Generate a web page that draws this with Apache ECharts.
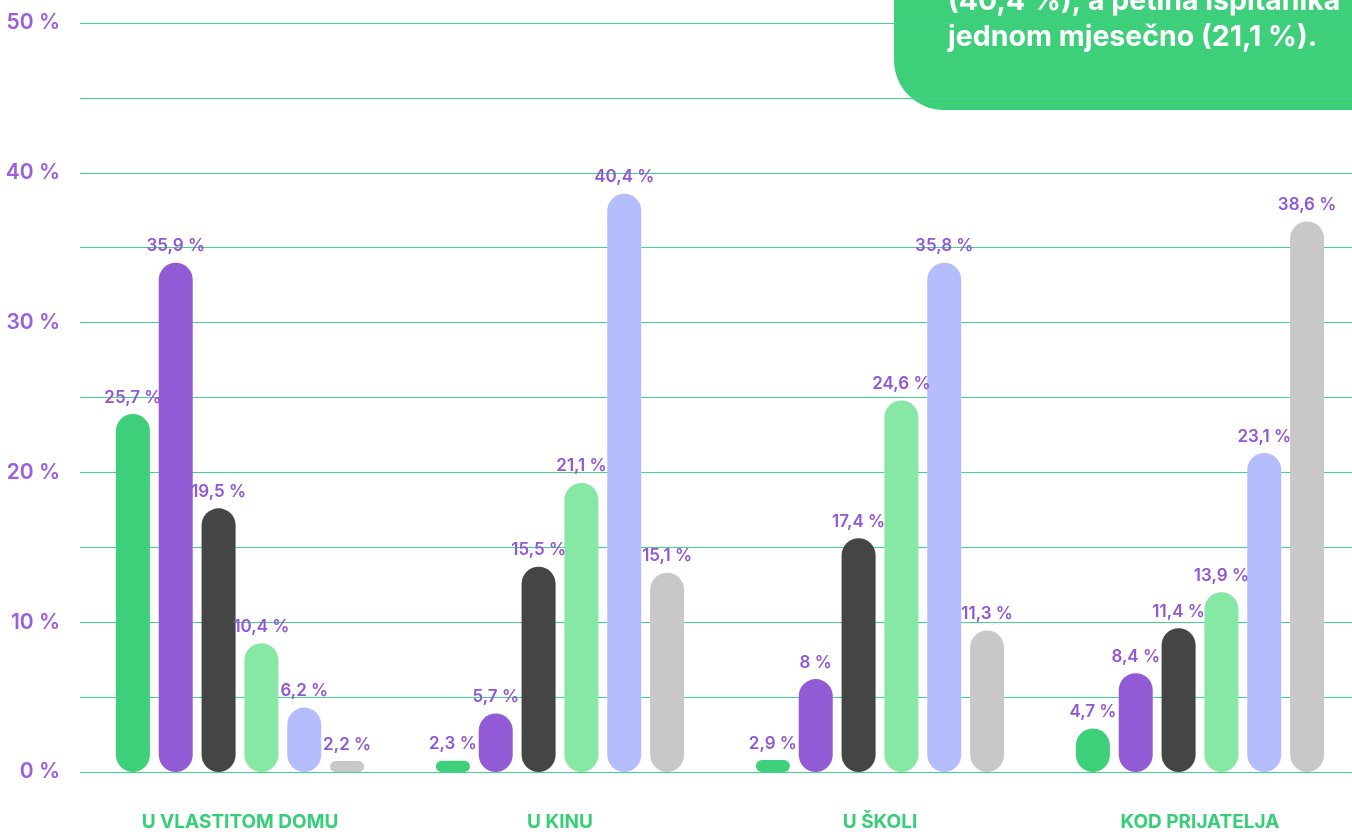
<!DOCTYPE html>
<html>
<head>
<meta charset="utf-8">
<script src="https://cdn.jsdelivr.net/npm/echarts@6/dist/echarts.min.js"></script>
<style>
html, body { margin: 0; padding: 0; background: #fff; overflow: hidden; }
#chart { width: 1360px; height: 832px; }
</style>
</head>
<body>
<div id="chart"></div>
<script>
const categories = ['U VLASTITOM DOMU', 'U KINU', 'U ŠKOLI', 'KOD PRIJATELJA']
const yTicks = [0, 10, 20, 30, 40, 50]

// printed percentages (labels)
const greenValues = [25.7, 2.3, 2.9, 4.7]
const purpleValues = [35.9, 5.7, 8, 8.4]
const darkValues = [19.5, 15.5, 17.4, 11.4]
const lightGreenValues = [10.4, 21.1, 24.6, 13.9]
const lavenderValues = [6.2, 40.4, 35.8, 23.1]
const grayValues = [2.2, 15.1, 11.3, 38.6]

// visible bar heights as drawn in the picture (in axis %)
const greenBars = [23.9, 0.75, 0.8, 2.9]
const purpleBars = [34.0, 3.9, 6.2, 6.6]
const darkBars = [17.6, 13.7, 15.6, 9.6]
const lightGreenBars = [8.6, 19.3, 24.8, 12.0]
const lavenderBars = [4.3, 38.6, 34.0, 21.3]
const grayBars = [0.73, 13.3, 9.45, 36.75]

const calloutLines = ['(40,4 %), a petina ispitanika', 'jednom mjesečno (21,1 %).']

const labelColor = '#9058d6'
const font = 'Inter, "Noto Sans", sans-serif'

function fmt(v) {
    return String(v).replace('.', ',') + ' %'
}

function makeSeries(name, color, bars, values) {
    return {
        name: name,
        type: 'bar',
        barWidth: 34,
        barGap: '26%',
        data: bars.map((b, i) => ({ value: b, label: { formatter: fmt(values[i]) } })),
        itemStyle: { color: color, borderRadius: 17 },
        label: {
            show: true,
            position: 'top',
            distance: 8,
            color: labelColor,
            fontFamily: font,
            fontWeight: 600,
            fontSize: 17
        }
    }
}

const chart = echarts.init(document.getElementById('chart'))

const option = {
    animation: false,
    grid: { left: 80, right: 0, top: 23, bottom: 59, containLabel: false },
    xAxis: {
        type: 'category',
        data: categories,
        axisLine: { show: false },
        axisTick: { show: false },
        axisLabel: {
            margin: 41,
            color: '#36cf78',
            fontFamily: font,
            fontWeight: 700,
            fontSize: 19
        }
    },
    yAxis: {
        type: 'value',
        min: 0,
        max: 50,
        interval: 5,
        axisLine: { show: false },
        axisTick: { show: false },
        splitLine: { lineStyle: { color: '#3fd68b', width: 1.2 } },
        axisLabel: {
            margin: 20,
            color: '#9a5fe0',
            fontFamily: font,
            fontWeight: 600,
            fontSize: 21,
            formatter: v => yTicks.includes(v) ? v + ' %' : ''
        }
    },
    graphic: [
        {
            type: 'rect',
            z: -10,
            shape: { x: 894, y: -60, width: 480, height: 170, r: [0, 0, 0, 50] },
            style: { fill: '#3ecf7a' }
        },
        {
            type: 'text',
            z: 100,
            left: 948,
            top: -17,
            style: {
                text: calloutLines.join('\n'),
                fill: '#fff',
                font: '700 28.5px ' + font,
                lineHeight: 36
            }
        }
    ],
    series: [
        makeSeries('s1', '#3ecf7b', greenBars, greenValues),
        makeSeries('s2', '#925bd6', purpleBars, purpleValues),
        makeSeries('s3', '#454545', darkBars, darkValues),
        makeSeries('s4', '#86e8a4', lightGreenBars, lightGreenValues),
        makeSeries('s5', '#b6bdfd', lavenderBars, lavenderValues),
        makeSeries('s6', '#c8c8c8', grayBars, grayValues)
    ]
}

chart.setOption(option)
</script>
</body>
</html>
